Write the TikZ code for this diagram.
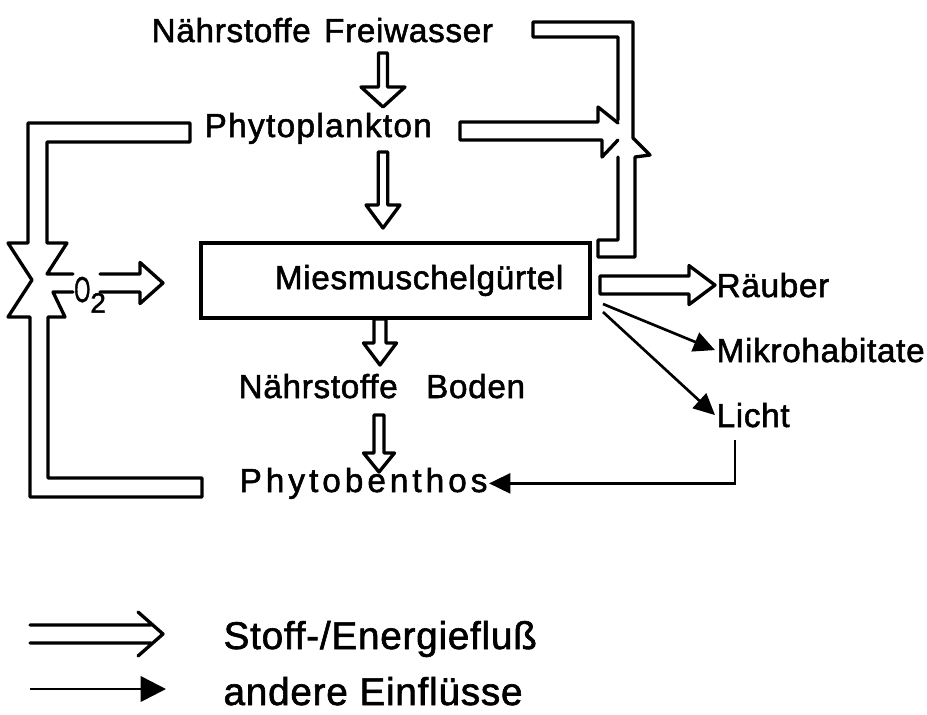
\documentclass[tikz,border=0pt]{standalone}
\usepackage{fontspec}
\setmainfont{Liberation Sans}[FakeBold=1.6, LetterSpace=2]
\usetikzlibrary{calc,arrows.meta}

\tikzset{
  band/.style={line width=2.5pt, line join=round, line cap=round},
  flow/.style={band, fill=white},
  infl/.style={line width=2pt, -{Triangle[length=16pt,width=15pt]}},
  lbl/.style={anchor=base west, inner sep=1pt, font=\fontsize{25}{30}\selectfont},
  leg/.style={lbl, font=\fontsize{29}{34}\selectfont},
  box/.style={draw, line width=2.5pt, minimum width=291.75pt, minimum height=56.25pt,
    inner xsep=20pt, text width=251.75pt, align=right, font=\fontsize{25}{30}\selectfont},
}

% hohler Pfeil: [Ende]{von}{nach}{Schaft}{Kopfbreite}{Kopflaenge}
\newcommand\flowarrow[6][-- cycle]{%
  \draw[flow] let \p1=#2, \p2=#3, \n1={atan2(\y2-\y1,\x2-\x1)},
    \n2={veclen(\x2-\x1,\y2-\y1)} in [shift={(\p1)}, rotate=\n1]
    (0pt,#4) -- (\n2*1pt-#6,#4) -- (\n2*1pt-#6,#5) -- (\n2*1pt,0pt)
    -- (\n2*1pt-#6,-#5) -- (\n2*1pt-#6,-#4) -- (0pt,-#4) #1;
}

\begin{document}
\begin{tikzpicture}[x=0.75pt, y=-0.75pt]
    \useasboundingbox (0,0) rectangle (927,714);

    % Knoten
    \node[lbl] (fw) at (150,42) {Nährstoffe\hspace{0.4em}Freiwasser};
    \node[lbl] (pp) at (203,137) {\addfontfeatures{LetterSpace=4}Phytoplankton};
    \node[box] (mg) at (395.5,280.5) {Miesmuschelgürtel};
    \node[lbl] (nb) at (237,398) {Nährstoffe\hspace{0.85em}Boden};
    \node[lbl] (pb) at (238,492) {\addfontfeatures{LetterSpace=12}Phytobenthos};
    \node[lbl] (rb) at (715,297) {Räuber};
    \node[lbl] (mh) at (715,362) {Mikrohabitate};
    \node[lbl] (li) at (715,427) {Licht};
    \node[lbl, inner sep=0pt] (o2) at (74,302) {\scalebox{0.62}[1.08]{O}\raisebox{-8pt}{\fontsize{21}{21}\selectfont 2}};
    \node[leg] (sf) at (222,649) {Stoff-/Energiefluß};
    \node[leg] (ae) at (222,705) {andere\hspace{0.3em}Einflüsse};

    % Punkte
    \coordinate (A1) at (383,53);
    \coordinate (A2) at (383,107);
    \coordinate (B1) at (383,152);
    \coordinate (B2) at (383,228);
    \coordinate (C1) at (380,319);
    \coordinate (C2) at (380,365);
    \coordinate (D1) at (379,415);
    \coordinate (D2) at (379,472);
    \coordinate (E1) at (600,285);
    \coordinate (F1) at (100,283);
    \coordinate (F2) at (163,283);
    \coordinate (M1) at (603,304);
    \coordinate (L1) at (603,312);
    \coordinate (L2) at (735,440);
    \coordinate (K1) at (30,634);
    \coordinate (K2) at (30,689);

    % Stoffflüsse
    \flowarrow{(A1)}{(A2)}{3.4pt}{16.5pt}{15pt}
    \flowarrow{(B1)}{(B2)}{3.6pt}{12.75pt}{17.25pt}
    \flowarrow{(C1)}{(C2)}{4.5pt}{12.4pt}{16.5pt}
    \flowarrow{(D1)}{(D2)}{3.75pt}{11.6pt}{14.25pt}
    \flowarrow{(E1)}{(rb.west)}{6.75pt}{14.6pt}{19.5pt}
    \flowarrow[]{(F1)}{(F2)}{6.75pt}{15.4pt}{17.25pt}

    \draw[band] (618,120) -- (618,37) -- (533,37) -- (533,22) -- (633,22) -- (633,138)
        -- (650,155) -- (635,157) -- (635,257) -- (598,257) -- (598,240) -- (618,240)
        -- (618,157);
    \draw[band] (618,123) -- (598,107) -- (598,122) -- (460,122) -- (460,140)
        -- (602,140) -- (602,157) -- (618,140);
    \draw[band] (73,274) -- (47,274) -- (67,243) -- (47,243) -- (47,142) -- (190,142)
        -- (190,123) -- (28,123) -- (28,243) -- (8,243) -- (32,280) -- (8,317)
        -- (30,317) -- (30,497) -- (202,497) -- (202,478) -- (48,478) -- (48,317)
        -- (65,317) -- (53,292) -- (73,292);

    % andere Einfluesse
    \draw[infl] (M1) -- (mh.west);
    \draw[infl] (L1) -- (li.west);
    \draw[infl] (L2) |- (pb.east);

    % Legende
    \draw[band] ($(K1)+(0,-9)$) -- ++(121,0) ($(K1)+(0,9)$) -- ++(121,0)
        ($(K1)+(108,-22)$) -- ($(K1)+(133,0)$) -- ($(K1)+(108,22)$);
    \draw[infl, -{Triangle[length=19pt,width=19pt]}] (K2) -- ++(136,0);
\end{tikzpicture}
\end{document}
